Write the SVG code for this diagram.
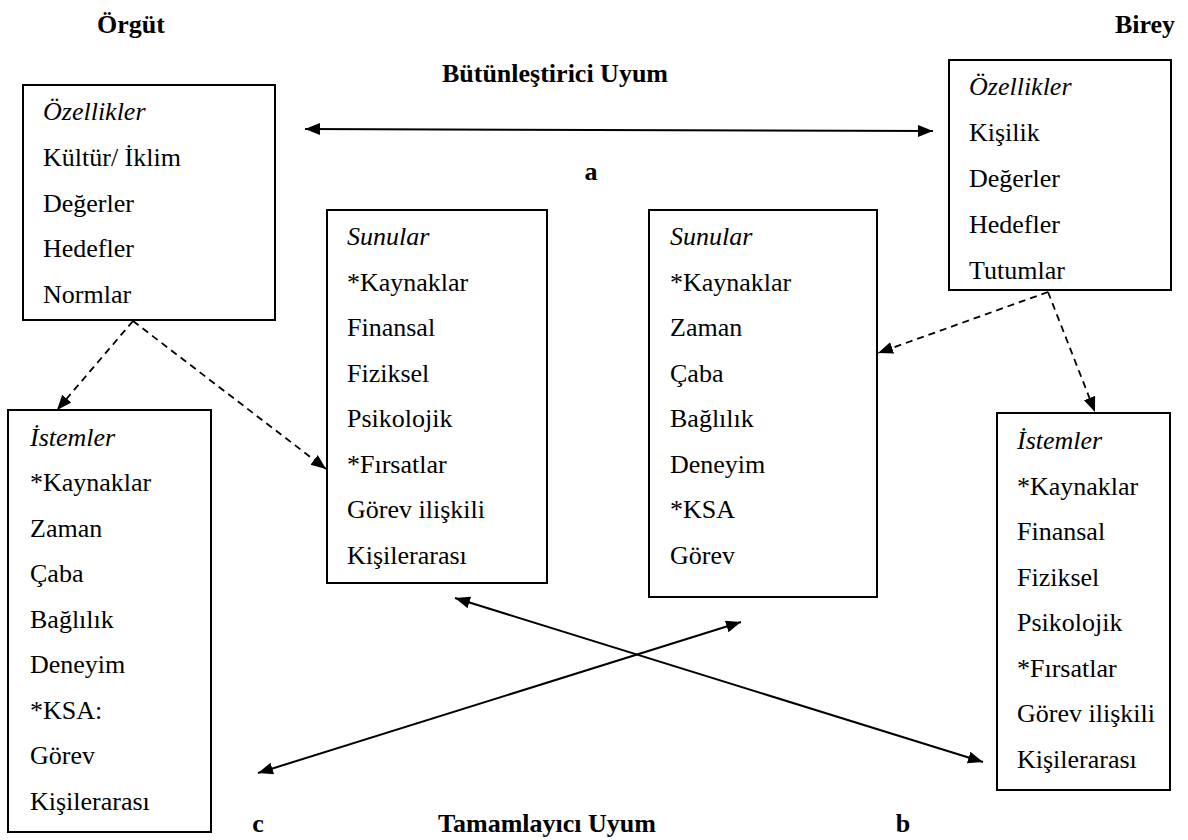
<svg xmlns="http://www.w3.org/2000/svg" width="1188" height="840" viewBox="0 0 1188 840">
  <style>
    .box { fill: #fff; stroke: #000; stroke-width: 2; }
    .t { font-family: "Liberation Serif", "Times New Roman", serif; font-size: 26px; fill: #000; }
    .i { font-style: italic; }
    .b { font-weight: bold; text-anchor: middle; }
    .solid { fill: none; stroke: #000; stroke-width: 2; }
    .dash { fill: none; stroke: #000; stroke-width: 1.8; stroke-dasharray: 7 5; }
  </style>
  <defs>
    <marker id="arrow" markerUnits="userSpaceOnUse" markerWidth="16" markerHeight="13" refX="15" refY="6" orient="auto-start-reverse">
      <path d="M0,0 L15,6 L0,12 z" fill="#000"/>
    </marker>
  </defs>
  <rect width="1188" height="840" fill="#fff"/>

  <!-- headings and fit labels -->
  <g id="headings">
    <text class="t b" x="131" y="33">Örgüt</text>
    <text class="t b" x="1145" y="33">Birey</text>
    <text class="t b" x="555" y="82">Bütünleştirici Uyum</text>
    <text class="t b" x="591" y="180">a</text>
    <text class="t b" x="258" y="832">c</text>
    <text class="t b" x="547" y="832">Tamamlayıcı Uyum</text>
    <text class="t b" x="903" y="832">b</text>
  </g>

  <!-- organisation characteristics -->
  <g id="org-ozellikler">
    <rect class="box" x="23" y="85" width="252" height="235"/>
    <text class="t i" x="43" y="120">Özellikler</text>
    <text class="t" x="43" y="166">Kültür/ İklim</text>
    <text class="t" x="43" y="212">Değerler</text>
    <text class="t" x="43" y="257">Hedefler</text>
    <text class="t" x="43" y="303">Normlar</text>
  </g>

  <!-- individual characteristics -->
  <g id="birey-ozellikler">
    <rect class="box" x="949" y="60" width="222" height="230"/>
    <text class="t i" x="969" y="95">Özellikler</text>
    <text class="t" x="969" y="141">Kişilik</text>
    <text class="t" x="969" y="187">Değerler</text>
    <text class="t" x="969" y="233">Hedefler</text>
    <text class="t" x="969" y="279">Tutumlar</text>
  </g>

  <!-- organisation supplies -->
  <g id="org-sunular">
    <rect class="box" x="327" y="210" width="220" height="373"/>
    <text class="t i" x="347" y="245">Sunular</text>
    <text class="t" x="347" y="291">*Kaynaklar</text>
    <text class="t" x="347" y="336">Finansal</text>
    <text class="t" x="347" y="382">Fiziksel</text>
    <text class="t" x="347" y="427">Psikolojik</text>
    <text class="t" x="347" y="473">*Fırsatlar</text>
    <text class="t" x="347" y="518">Görev ilişkili</text>
    <text class="t" x="347" y="564">Kişilerarası</text>
  </g>

  <!-- individual supplies -->
  <g id="birey-sunular">
    <rect class="box" x="649" y="210" width="228" height="387"/>
    <text class="t i" x="670" y="245">Sunular</text>
    <text class="t" x="670" y="291">*Kaynaklar</text>
    <text class="t" x="670" y="336">Zaman</text>
    <text class="t" x="670" y="382">Çaba</text>
    <text class="t" x="670" y="427">Bağlılık</text>
    <text class="t" x="670" y="473">Deneyim</text>
    <text class="t" x="670" y="518">*KSA</text>
    <text class="t" x="670" y="564">Görev</text>
  </g>

  <!-- organisation demands -->
  <g id="org-istemler">
    <rect class="box" x="8" y="410" width="203" height="422"/>
    <text class="t i" x="30" y="446">İstemler</text>
    <text class="t" x="30" y="491">*Kaynaklar</text>
    <text class="t" x="30" y="537">Zaman</text>
    <text class="t" x="30" y="582">Çaba</text>
    <text class="t" x="30" y="628">Bağlılık</text>
    <text class="t" x="30" y="673">Deneyim</text>
    <text class="t" x="30" y="719">*KSA:</text>
    <text class="t" x="30" y="764">Görev</text>
    <text class="t" x="30" y="810">Kişilerarası</text>
  </g>

  <!-- individual demands -->
  <g id="birey-istemler">
    <rect class="box" x="997" y="413" width="173" height="377"/>
    <text class="t i" x="1017" y="449">İstemler</text>
    <text class="t" x="1017" y="495">*Kaynaklar</text>
    <text class="t" x="1017" y="540">Finansal</text>
    <text class="t" x="1017" y="586">Fiziksel</text>
    <text class="t" x="1017" y="631">Psikolojik</text>
    <text class="t" x="1017" y="677">*Fırsatlar</text>
    <text class="t" x="1017" y="722">Görev ilişkili</text>
    <text class="t" x="1017" y="768">Kişilerarası</text>
  </g>

  <!-- connectors: solid double-headed fits, dashed influence arrows -->
  <g id="connectors">
    <line class="solid" x1="305" y1="129" x2="933" y2="131" marker-start="url(#arrow)" marker-end="url(#arrow)"/>
    <line class="dash" x1="133" y1="321" x2="57" y2="410" marker-end="url(#arrow)"/>
    <line class="dash" x1="133" y1="321" x2="326" y2="469" marker-end="url(#arrow)"/>
    <line class="dash" x1="1048" y1="292" x2="878" y2="353" marker-end="url(#arrow)"/>
    <line class="dash" x1="1048" y1="292" x2="1095" y2="412" marker-end="url(#arrow)"/>
    <line class="solid" x1="258" y1="773" x2="741" y2="622" marker-start="url(#arrow)" marker-end="url(#arrow)"/>
    <line class="solid" x1="455" y1="598" x2="983" y2="762" marker-start="url(#arrow)" marker-end="url(#arrow)"/>
  </g>
</svg>
